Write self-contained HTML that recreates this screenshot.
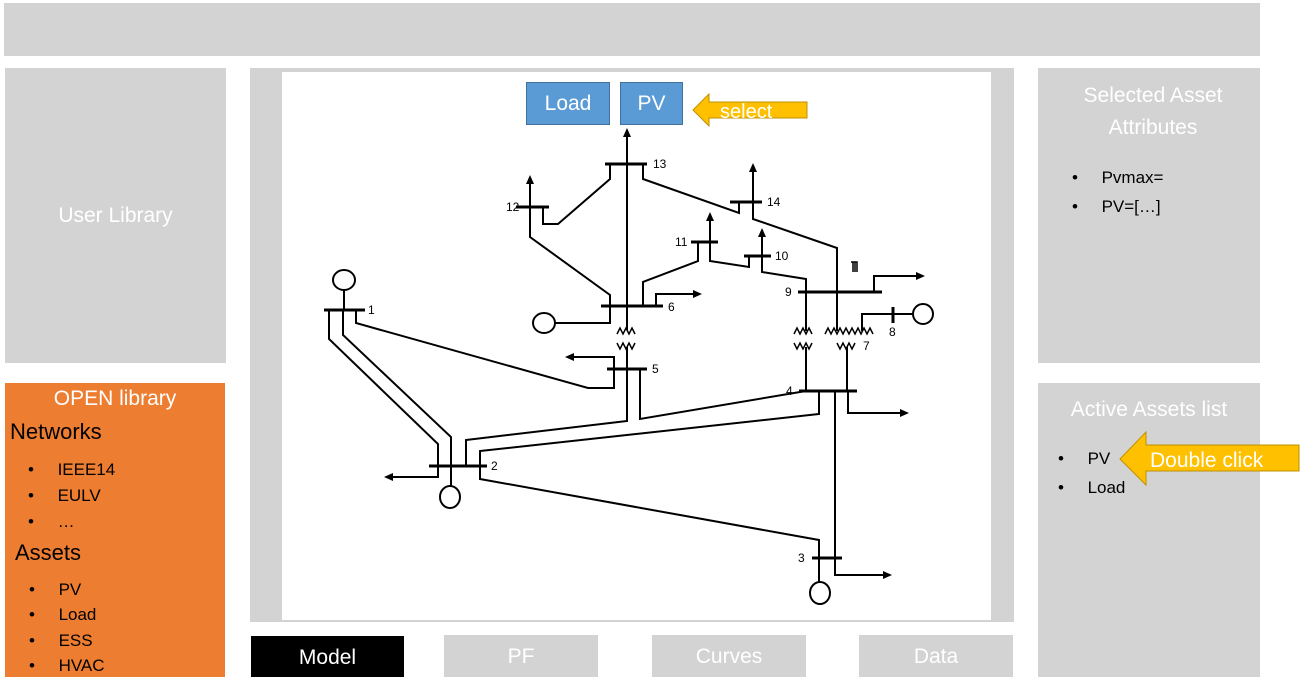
<!DOCTYPE html>
<html><head><meta charset="utf-8"><style>
body{margin:0;width:1308px;height:683px;background:#fff;position:relative;overflow:hidden;font-family:"Liberation Sans",sans-serif}
.p{position:absolute;background:#d3d3d3}
.li{position:absolute;font-size:17px;color:#000}
.w{color:#fff;text-align:center;font-size:21px}
</style></head><body>
<div class="p" style="left:4px;top:3px;width:1256px;height:53px"></div>
<div class="p w" style="left:5px;top:68px;width:221px;height:295px;line-height:295px">User Library</div>
<div class="p" style="left:5px;top:383px;width:220px;height:294px;background:#ed7d31"></div>
<div class="li" style="left:5px;top:387px;width:220px;text-align:center;color:#fff;font-size:21px">OPEN library</div>
<div class="li" style="left:10px;top:419px;font-size:22px">Networks</div>
<div class="li" style="left:28px;top:460px">•&nbsp;&nbsp;&nbsp;&nbsp;&nbsp;IEEE14</div>
<div class="li" style="left:28px;top:486px">•&nbsp;&nbsp;&nbsp;&nbsp;&nbsp;EULV</div>
<div class="li" style="left:28px;top:512px">•&nbsp;&nbsp;&nbsp;&nbsp;&nbsp;…</div>
<div class="li" style="left:15px;top:540px;font-size:22px">Assets</div>
<div class="li" style="left:29px;top:580px">•&nbsp;&nbsp;&nbsp;&nbsp;&nbsp;PV</div>
<div class="li" style="left:29px;top:605px">•&nbsp;&nbsp;&nbsp;&nbsp;&nbsp;Load</div>
<div class="li" style="left:29px;top:631px">•&nbsp;&nbsp;&nbsp;&nbsp;&nbsp;ESS</div>
<div class="li" style="left:29px;top:656px">•&nbsp;&nbsp;&nbsp;&nbsp;&nbsp;HVAC</div>

<div class="p" style="left:250px;top:68px;width:764px;height:554px"></div>
<div style="position:absolute;left:282px;top:72px;width:709px;height:548px;background:#fff"></div>

<div class="p" style="left:1038px;top:68px;width:222px;height:295px"></div>
<div class="li w" style="left:1038px;top:80px;width:230px;line-height:32px">Selected Asset<br>Attributes</div>
<div class="li" style="left:1072px;top:168px">•&nbsp;&nbsp;&nbsp;&nbsp;&nbsp;Pvmax=</div>
<div class="li" style="left:1072px;top:197px">•&nbsp;&nbsp;&nbsp;&nbsp;&nbsp;PV=[…]</div>
<div class="p" style="left:1038px;top:383px;width:222px;height:294px"></div>
<div class="li w" style="left:1038px;top:398px;width:222px">Active Assets list</div>
<div class="li" style="left:1058px;top:449px">•&nbsp;&nbsp;&nbsp;&nbsp;&nbsp;PV</div>
<div class="li" style="left:1058px;top:478px">•&nbsp;&nbsp;&nbsp;&nbsp;&nbsp;Load</div>

<div class="p w" style="left:251px;top:636px;width:153px;height:41px;line-height:43px;background:#000">Model</div>
<div class="p w" style="left:444px;top:635px;width:154px;height:42px;line-height:44px">PF</div>
<div class="p w" style="left:652px;top:635px;width:154px;height:42px;line-height:44px">Curves</div>
<div class="p w" style="left:859px;top:635px;width:154px;height:42px;line-height:44px">Data</div>

<div class="p w" style="left:526px;top:82px;width:82px;height:41px;line-height:42px;background:#5b9bd5;border:1px solid #41719c">Load</div>
<div class="p w" style="left:620px;top:82px;width:61px;height:41px;line-height:42px;background:#5b9bd5;border:1px solid #41719c">PV</div>

<svg width="1308" height="683" style="position:absolute;left:0;top:0" fill="none" stroke="#000" stroke-width="2">
<path d="M693,110L709,94L709,102L807,102L807,118L709,118L709,126Z" fill="#ffc000" stroke="#bf9000" stroke-width="1"/>
<text x="720" y="118" fill="#fff" stroke="none" font-size="20">select</text>
<path d="M1120,459L1146,432L1146,445L1299,445L1299,471L1146,471L1146,485Z" fill="#ffc000" stroke="#bf9000" stroke-width="1"/>
<text x="1150" y="467" fill="#fff" stroke="none" font-size="21">Double click</text>
<g stroke-width="3">
<path d="M605,164H647M516,207H549M730,202H762M691,242H718M744,256H771M798,292H882M601,306H663M607,369H647M799,391H857M324,310H365M429,466H487M812,558H842M893,307V323"/>
</g>
<g stroke-width="2">
<path d="M627,136V330M627,347V369M627,369V421L466,440V466M640,369V419L806,391M806,391V347M806,331V292"/>
<path d="M610,164V179L558,224H543V207M530,207V183M530,207V237L610,295V306"/>
<path d="M643,164V179L739,213V202M753,202V171M753,202V219L837,248V331"/>
<path d="M710,242V220M698,242V261L643,282V306M710,242V261L749,267V256M762,256V236M762,256V272L806,279V292"/>
<path d="M874,292V276H917M656,306V294H694M610,306V323H555"/>
<path d="M614,369V357H573M614,369V388H588L356,323V310M344,290V310"/>
<path d="M329,310V339L438,444V477H392M343,310V335L451,437V486"/>
<path d="M480,466V451L819,414V391M835,391V558M480,466V479L819,540V582M835,558V575H884M848,391V413H901M847,347V391M862,331V314H912"/>
</g>
<g fill="#000" stroke="none">
<path d="M627,128l-4,9h8z"/><path d="M530,175l-4,9h8z"/><path d="M753,163l-4,9h8z"/><path d="M710,212l-4,9h8z"/><path d="M762,228l-4,9h8z"/>
<path d="M925,276l-9,-4v8z"/><path d="M702,294l-9,-4v8z"/><path d="M565,357l9,-4v8z"/><path d="M384,477l9,-4v8z"/><path d="M909,413l-9,-4v8z"/><path d="M892,575l-9,-4v8z"/>
</g>
<g stroke-width="1.5">
<path d="M617,334l3,-6l3,6l3,-6l3,6l3,-6l3,6M617,343l3,6l3,-6l3,6l3,-6l3,6l3,-6"/>
<path d="M794,334l3,-6l3,6l3,-6l3,6l3,-6l3,6M794,343l3,6l3,-6l3,6l3,-6l3,6l3,-6"/>
<path d="M825,334l3,-6l3,6l3,-6l3,6l3,-6l3,6l3,-6l3,6l3,-6l3,6l3,-6l3,6l3,-6l3,6l3,-6l3,6M837,343l3,6l3,-6l3,6l3,-6l3,6l3,-6"/>
<path d="M851,262h6v10M853,262v10M855,262v10"/>
</g>
<g stroke-width="2"><ellipse cx="344" cy="280" rx="11" ry="10"/><ellipse cx="544" cy="323" rx="11" ry="10"/><ellipse cx="450" cy="497" rx="10" ry="11"/><ellipse cx="923" cy="314" rx="10" ry="10"/><ellipse cx="820" cy="593" rx="10" ry="11"/></g>
<g fill="#000" stroke="none" font-size="12">
<text x="653" y="168">13</text><text x="506" y="211">12</text><text x="767" y="206">14</text><text x="675" y="246">11</text><text x="775" y="260">10</text><text x="785" y="296">9</text><text x="668" y="311">6</text><text x="652" y="373">5</text><text x="786" y="395">4</text><text x="368" y="314">1</text><text x="491" y="470">2</text><text x="798" y="562">3</text><text x="889" y="336">8</text><text x="863" y="350">7</text>
</g>
</svg>
</body></html>
